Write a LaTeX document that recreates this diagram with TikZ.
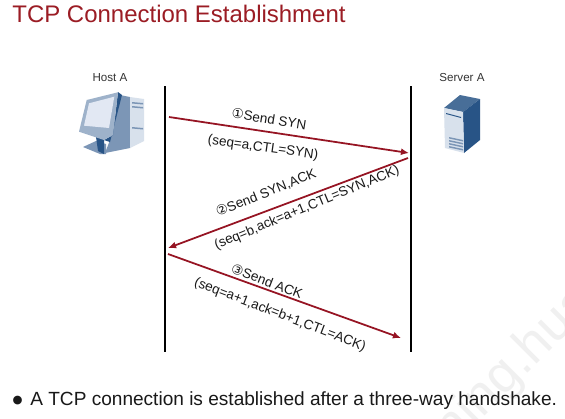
\documentclass[tikz,border=0pt]{standalone}
\usepackage{fontspec}
\setmainfont{Liberation Sans}
\newfontfamily\circledfont{DejaVu Sans}
\usetikzlibrary{arrows.meta,positioning,calc}
\definecolor{accentred}{RGB}{155,28,36}
\definecolor{arrowred}{RGB}{150,20,35}
\definecolor{hostdark}{RGB}{40,84,134}
\definecolor{hostside}{RGB}{124,150,182}
\definecolor{hostbezel}{RGB}{158,178,202}
\definecolor{hostscreen}{RGB}{226,232,243}
\definecolor{hostfront}{RGB}{216,225,236}
\tikzset{
  lifeline/.style={line width=0.9pt,black},
  msgarrow/.style={line width=1pt,arrowred,-{Latex[length=4.6pt,width=4pt]}},
  msglabel/.style={font=\fontsize{7.7}{8.5}\selectfont,text=black!90,inner sep=0pt},
  hostlabel/.style={font=\fontsize{6.6}{7.2}\selectfont,text=black!80,inner sep=0pt}
}
\begin{document}
\begin{tikzpicture}[x=0.02cm,y=-0.02cm]
      \useasboundingbox (0,0) rectangle (565,419);
      \fill[white] (0,0) rectangle (565,419);
      % watermark
      \begin{scope}
        \clip (0,0) rectangle (565,419);
        \node[rotate=45,anchor=west,inner sep=0pt,text=black!6,font=\fontsize{30}{32}\selectfont] (wmark) at (444,438) {ning.hua};
      \end{scope}

      \node[anchor=west,inner sep=0pt,text=accentred,font=\fontsize{13.65}{15}\selectfont] (title) at (12,14) {TCP Connection Establishment};

      \node[hostlabel] (hosta) at (110,78) {Host A};
      \node[hostlabel] (servera) at (462,78) {Server A};

      % host icon
      \fill[hostside] (120,95) -- (130,97) -- (130,148) -- (105,153) -- (110,140) -- cycle;
      \fill[hostfront] (130,97) -- (144,99) -- (144,141) -- (130,148) -- cycle;
      \foreach \y in {102,106,127} {
        \fill[hostside] (132,\y) -- (143,\y+1) -- (143,\y+2.5) -- (132,\y+1.5) -- cycle;
      }
      \fill[hostside] (83,147) -- (96,141) -- (106,144) -- (106,154) -- (100,154) -- cycle;
      \fill[hostdark] (96,137) -- (104,137) -- (104,154) -- (98,151) -- cycle;
      \fill[hostdark] (118,92) -- (122,95) -- (110,142) -- (104,140) -- (113,135) -- cycle;
      \fill[hostbezel] (86.7,100) -- (118,92.3) -- (113,135) -- (104,140) -- (79,131.7) -- cycle;
      \fill[hostscreen] (89,103.3) -- (114.3,96.7) -- (109,128) -- (84,125.7) -- cycle;

      % server icon
      \fill[hostdark!85] (444,108) -- (460,95) -- (480,99) -- (463,112) -- cycle;
      \fill[hostdark] (463,112) -- (480,99) -- (480,140) -- (464,153) -- cycle;
      \fill[hostfront] (444,108) -- (463,112) -- (464,153) -- (445,148) -- cycle;
      \fill[hostdark] (446,113) -- (461,117) -- (461,118) -- (446,114) -- cycle;
      \foreach \y in {137,140,143,146} {
        \fill[hostside] (449,\y) -- (463,\y+3) -- (463,\y+4.5) -- (449,\y+1.5) -- cycle;
      }

      % lifelines
      \coordinate (hosttop) at (165,86);
      \coordinate (hostend) at (165,352);
      \coordinate (servertop) at (411,86);
      \coordinate (serverend) at (411,352);
      \draw[lifeline] (hosttop) -- (hostend);
      \draw[lifeline] (servertop) -- (serverend);

      % messages
      \coordinate (synstart) at (169,117);
      \coordinate (synend) at (409,153);
      \coordinate (ackstart) at (408,158);
      \coordinate (ackend) at (168,248);
      \coordinate (laststart) at (168,254);
      \coordinate (lastend) at (401,338);
      \draw[msgarrow] (synstart) -- (synend);
      \draw[msgarrow] (ackstart) -- (ackend);
      \draw[msgarrow] (laststart) -- (lastend);

      \node[msglabel,rotate=-9] (syntop) at (269,119) {{\circledfont ①}Send SYN};
      \node[msglabel,rotate=-8] (synlow) at (263,148) {(seq=a,CTL=SYN)};
      \node[msglabel,rotate=22] (acktop) at (266,193) {{\circledfont ②}Send SYN,ACK};
      \node[msglabel,rotate=22.5] (acklow) at (307,208) {(seq=b,ack=a+1,CTL=SYN,ACK)};
      \node[msglabel,rotate=-21] (lasttop) at (267,281) {{\circledfont ③}Send ACK};
      \node[msglabel,rotate=-21] (lastlow) at (280,315) {(seq=a+1,ack=b+1,CTL=ACK)};

      \node[anchor=west,inner sep=0pt,text=black!90,font=\fontsize{10.85}{12}\selectfont] (summary) at (30,401) {A TCP connection is established after a three-way handshake.};
      \node[anchor=east,inner sep=0pt,text=black!90,font=\fontsize{6.5}{7}\selectfont\circledfont] (summarydot) at (23,401) {●};
    \end{tikzpicture}
\end{document}
